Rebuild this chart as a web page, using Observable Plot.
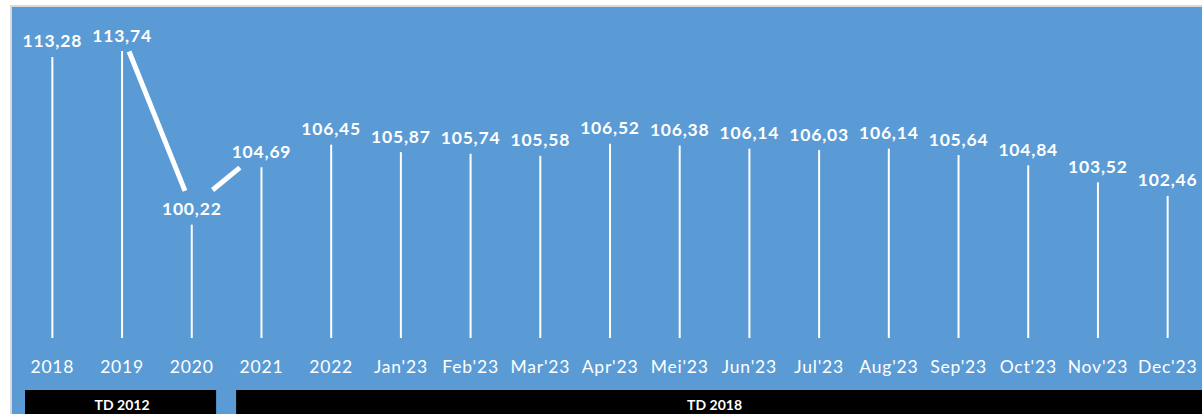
<!DOCTYPE html>
<html><head><meta charset="utf-8">
<script src="https://cdn.jsdelivr.net/npm/d3@7"></script>
<script src="https://cdn.jsdelivr.net/npm/@observablehq/plot@0.6"></script>
<style>
html,body{margin:0;padding:0;background:#fff;width:1202px;height:414px;overflow:hidden;}
#frame{position:absolute;left:10px;top:5px;width:1190px;height:407px;border-top:2px solid #d9d9d9;border-left:2px solid #d9d9d9;background:#5b9bd5;overflow:hidden;}
#frame svg{display:block;}
#main g[aria-label="text"] text{letter-spacing:0.8px;}
#main g[aria-label="x-axis tick label"] text{letter-spacing:0.8px;}
</style></head><body><div id="frame"><div id="main"></div><div id="groups"></div></div>
<script>
const categories = ["2018","2019","2020","2021","2022","Jan'23","Feb'23","Mar'23","Apr'23","Mei'23","Jun'23","Jul'23","Aug'23","Sep'23","Oct'23","Nov'23","Dec'23"];
const values = [113.28,113.74,100.22,104.69,106.45,105.87,105.74,105.58,106.52,106.38,106.14,106.03,106.14,105.64,104.84,103.52,102.46];
const groupLabels = ["TD 2012","TD 2018"];
const groupFirst = ["2018","2021"];
const groupLast = ["2020","Dec'23"];
const linkFrom = ["2019","2020"];
const linkTo = ["2020","2021"];
const yDomain = [91.4, 116];

const idx = c => categories.indexOf(c);
const points = categories.map((c, i) => ({i, c, v: values[i]}));
const links = linkFrom.map((f, k) => ({x1: idx(f), y1: values[idx(f)], x2: idx(linkTo[k]), y2: values[idx(linkTo[k])]}));
const groups = groupLabels.map((g, k) => ({label: g, a: idx(groupFirst[k]), b: idx(groupLast[k])}));
const xDomain = [-0.5, categories.length - 0.5];
const fmt = v => v.toFixed(2).replace(".", ",");
const W = 1190;
const font = "Lato, 'Open Sans', sans-serif";

const main = Plot.plot({
  width: W, height: 383, marginLeft: 5, marginRight: 0, marginTop: 15, marginBottom: 52,
  x: {domain: xDomain, axis: null},
  y: {domain: yDomain, axis: null},
  style: {background: "transparent", color: "white", fontFamily: font, overflow: "visible"},
  marks: [
    Plot.ruleX(points, {x: "i", y1: yDomain[0], y2: "v", stroke: "white", strokeWidth: 2}),
    Plot.arrow([links[0]], {x1: "x1", y1: "y1", x2: "x2", y2: "y2", stroke: "white", strokeWidth: 5, headLength: 0, insetEnd: 37, dx: 7, strokeLinecap: "butt"}),
    Plot.arrow([links[1]], {x1: "x1", y1: "y1", x2: "x2", y2: "y2", stroke: "white", strokeWidth: 5, headLength: 0, insetStart: 27, insetEnd: 28, dy: -18, strokeLinecap: "butt"}),
    Plot.text(points, {x: "i", y: "v", text: d => fmt(d.v), dy: -10, lineAnchor: "bottom", fill: "white", fontSize: 17.5, fontWeight: "bold"}),
    Plot.axisX({ticks: d3.range(categories.length), tickFormat: i => categories[i], tickSize: 0, tickPadding: 22, fontSize: 17.5, fill: "white", anchor: "bottom"})
  ]
});
document.getElementById("main").append(main);

const gp = Plot.plot({
  width: W, height: 31, marginLeft: 5, marginRight: 0, marginTop: 0, marginBottom: 0,
  x: {domain: xDomain, axis: null},
  style: {background: "transparent", color: "white", fontFamily: font, overflow: "visible"},
  marks: [
    Plot.rect(groups, {filter: (d, i) => i < groups.length - 1, x1: d => d.a - 0.5, x2: d => d.b + 0.5, fill: "black", insetLeft: 8, insetRight: 10}),
    Plot.rect(groups, {filter: (d, i) => i === groups.length - 1, x1: d => d.a - 0.5, x2: d => d.b + 0.5, fill: "black", insetLeft: 10, insetRight: 0}),
    Plot.text(groups, {x: d => (d.a + d.b) / 2, text: "label", frameAnchor: "top", dy: 15.5, lineAnchor: "middle", fill: "white", fontSize: 14, fontWeight: "bold"})
  ]
});
document.getElementById("groups").append(gp);
</script></body></html>
